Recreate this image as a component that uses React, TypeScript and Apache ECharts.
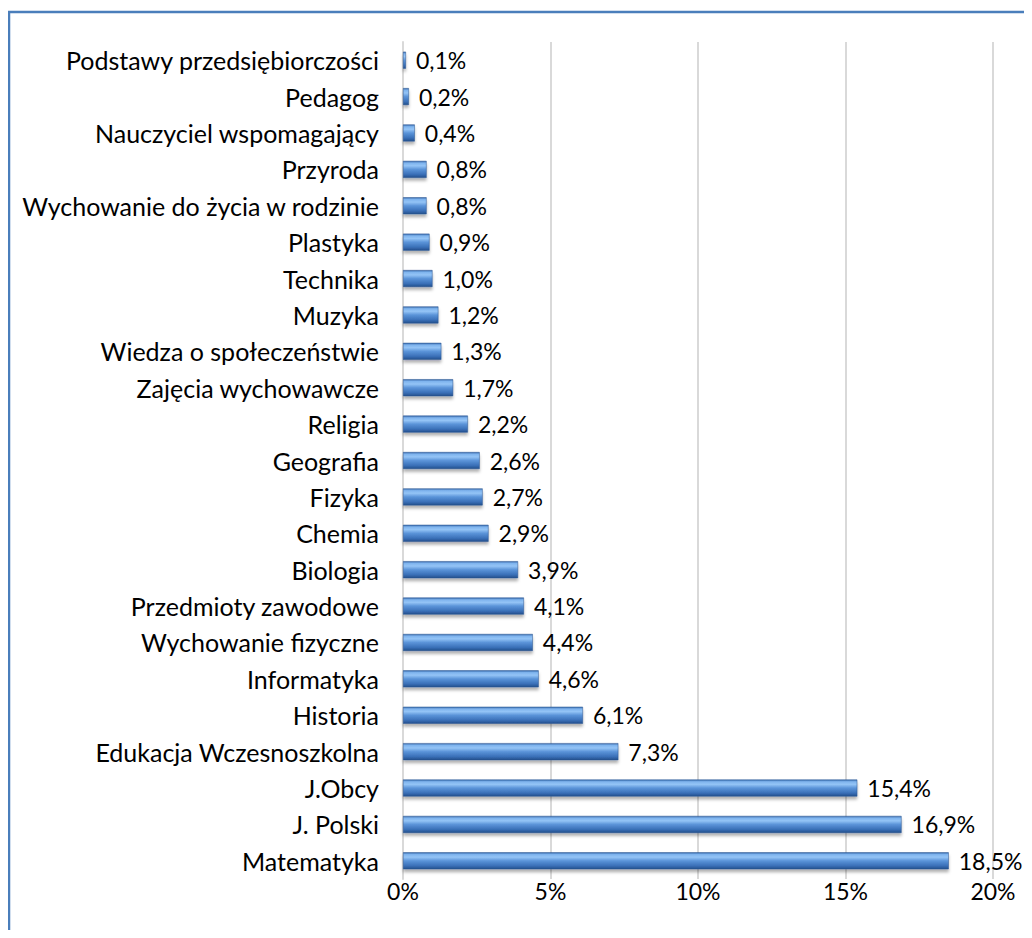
import React, { useEffect, useRef } from "react";
import * as echarts from "echarts";

const categories = [
  "Podstawy przedsiębiorczości",
  "Pedagog",
  "Nauczyciel wspomagający",
  "Przyroda",
  "Wychowanie do życia w rodzinie",
  "Plastyka",
  "Technika",
  "Muzyka",
  "Wiedza o społeczeństwie",
  "Zajęcia wychowawcze",
  "Religia",
  "Geografia",
  "Fizyka",
  "Chemia",
  "Biologia",
  "Przedmioty zawodowe",
  "Wychowanie fizyczne",
  "Informatyka",
  "Historia",
  "Edukacja Wczesnoszkolna",
  "J.Obcy",
  "J. Polski",
  "Matematyka",
];

const values = [
  0.1, 0.2, 0.4, 0.8, 0.8, 0.9, 1.0, 1.2, 1.3, 1.7, 2.2, 2.6, 2.7, 2.9, 3.9, 4.1, 4.4, 4.6, 6.1, 7.3,
  15.4, 16.9, 18.5,
];

const xTicks = [0, 5, 10, 15, 20];

const FONT = "Lato, 'Open Sans', sans-serif";

export default function App() {
  const ref = useRef<HTMLDivElement>(null);
  useEffect(() => {
    if (!ref.current) return;
    const chart = echarts.init(ref.current, undefined, { renderer: "svg" });
    chart.setOption({
      animation: false,
      backgroundColor: "#ffffff",
      graphic: [
        {
          type: "rect",
          shape: { x: 1, y: 4, width: 1200, height: 1200 },
          style: { fill: "none", stroke: "#4a7ebb", lineWidth: 2.5 },
          silent: true,
          z: 100,
        },
      ],
      grid: { left: 395, right: 31, top: 34, bottom: 51, containLabel: false },
      xAxis: {
        type: "value",
        min: xTicks[0],
        max: xTicks[xTicks.length - 1],
        interval: 5,
        axisLine: { show: false },
        axisTick: { show: false },
        splitLine: { show: true, lineStyle: { color: "#d9d9d9", width: 2 } },
        axisLabel: {
          formatter: (v: number) => `${v}%`,
          color: "#000",
          fontFamily: FONT,
          fontSize: 23,
          margin: 0,
        },
      },
      yAxis: {
        type: "category",
        data: categories,
        inverse: true,
        axisLine: { show: true, lineStyle: { color: "#d9d9d9", width: 2 } },
        axisTick: { show: false },
        axisLabel: {
          color: "#000",
          fontFamily: FONT,
          fontSize: 25,
          margin: 24,
        },
      },
      series: [
        {
          type: "bar",
          data: values,
          barWidth: 17,
          itemStyle: {
            color: new echarts.graphic.LinearGradient(0, 0, 0, 1, [
              { offset: 0, color: "#3a6cae" },
              { offset: 0.12, color: "#7fb4ee" },
              { offset: 0.28, color: "#94c4f6" },
              { offset: 0.5, color: "#5b94d9" },
              { offset: 0.8, color: "#3a70b8" },
              { offset: 1, color: "#234f8c" },
            ]),
            borderColor: "#2a5590",
            borderWidth: 0.5,
            shadowColor: "rgba(0,0,0,0.3)",
            shadowBlur: 3,
            shadowOffsetY: 3,
          },
          label: {
            show: true,
            position: "right",
            distance: 10,
            color: "#000",
            fontFamily: FONT,
            fontSize: 23,
            formatter: (p: any) => `${p.value.toFixed(1).replace(".", ",")}%`,
          },
        },
      ],
    });
    return () => chart.dispose();
  }, []);
  return <div ref={ref} style={{ width: 1016, height: 922 }} />;
}
